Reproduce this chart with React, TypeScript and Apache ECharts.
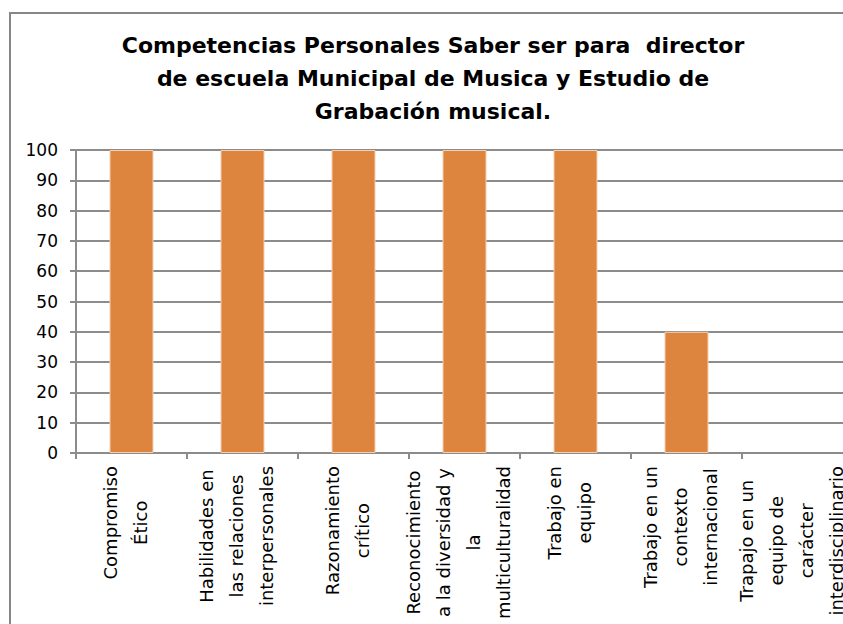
import React, { useEffect, useRef } from 'react';
import * as echarts from 'echarts';

const titleText =
  'Competencias Personales Saber ser para  director\nde escuela Municipal de Musica y Estudio de\nGrabación musical.';

const categories = [
  'Compromiso\nÉtico',
  'Habilidades en\nlas relaciones\ninterpersonales',
  'Razonamiento\ncrítico',
  'Reconocimiento\na la diversidad y\nla\nmulticulturalidad',
  'Trabajo en\nequipo',
  'Trabajo en un\ncontexto\ninternacional',
  'Trapajo en un\nequipo de\ncarácter\ninterdisciplinario',
];

const values = [100, 100, 100, 100, 100, 40, 0];

const yMin = 0;
const yMax = 100;
const yInterval = 10;

const FONT = '"DejaVu Sans", "Open Sans", sans-serif';
const GRID_COLOR = '#8c8c8c';

export default function App() {
  const ref = useRef<HTMLDivElement>(null);

  useEffect(() => {
    if (!ref.current) return;
    const chart = echarts.init(ref.current, undefined, { renderer: 'svg' });
    chart.setOption({
      animation: false,
      backgroundColor: '#ffffff',
      title: {
        text: titleText,
        left: 428,
        top: 24,
        textAlign: 'center',
        textStyle: {
          fontFamily: FONT,
          fontWeight: 'bold',
          fontSize: 22,
          lineHeight: 33,
          color: '#000000',
        },
      },
      graphic: [
        {
          type: 'rect',
          silent: true,
          shape: { x: 10, y: 13, width: 1000, height: 800 },
          style: { fill: 'none', stroke: '#878787', lineWidth: 2 },
        },
      ],
      grid: {
        left: 76,
        top: 150,
        right: -10,
        bottom: 171,
        containLabel: false,
        outerBoundsMode: 'none',
      },
      xAxis: {
        type: 'category',
        data: categories,
        axisLine: { show: true, lineStyle: { color: GRID_COLOR, width: 2 } },
        axisTick: { show: true, length: 6, lineStyle: { color: GRID_COLOR, width: 2 } },
        axisLabel: {
          interval: 0,
          rotate: 90,
          margin: 13,
          padding: [0, 0, 12, 0],
          color: '#000000',
          fontFamily: FONT,
          fontSize: 18,
          lineHeight: 30,
          hideOverlap: false,
          formatter: (v: string) =>
            v
              .split('\n')
              .map((l) => `{c|${l}}`)
              .join('\n'),
          rich: {
            c: {
              align: 'center',
              fontFamily: FONT,
              fontSize: 18,
              lineHeight: 30,
              color: '#000000',
            },
          },
        },
      },
      yAxis: {
        type: 'value',
        min: yMin,
        max: yMax,
        interval: yInterval,
        axisLine: { show: true, lineStyle: { color: GRID_COLOR, width: 2 } },
        axisTick: { show: true, length: 6, lineStyle: { color: GRID_COLOR, width: 2 } },
        axisLabel: {
          margin: 18,
          color: '#000000',
          fontFamily: FONT,
          fontSize: 17,
        },
        splitLine: { show: true, lineStyle: { color: GRID_COLOR, width: 2 } },
      },
      series: [
        {
          type: 'bar',
          data: values.map((v) =>
            v === 0 ? { value: v, itemStyle: { borderWidth: 0 } } : v
          ),
          barWidth: 44,
          itemStyle: {
            color: '#dd843f',
            borderColor: '#f6cfae',
            borderWidth: 1,
          },
        },
      ],
    });
    return () => chart.dispose();
  }, []);

  return (
    <div
      ref={ref}
      style={{ position: 'fixed', left: 0, top: 0, width: 843, height: 624 }}
    />
  );
}
